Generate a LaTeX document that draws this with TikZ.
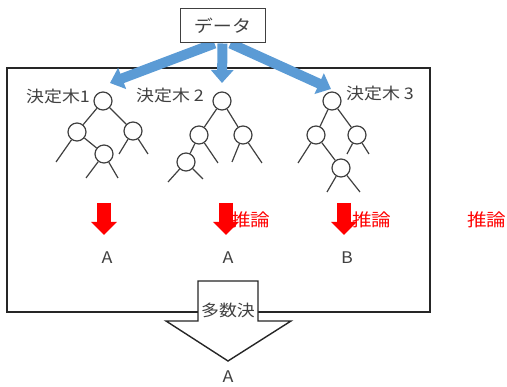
\documentclass[tikz,border=0pt]{standalone}
\usepackage{fontspec}
\setmainfont[FakeStretch=1.12]{Noto Sans CJK JP}
\usetikzlibrary{arrows.meta,backgrounds}
\definecolor{ink}{HTML}{404040}
\definecolor{flowblue}{HTML}{5B9BD5}
\tikzset{
  lbl/.style={text=ink, inner sep=0pt, font=\fontsize{16}{16}\selectfont},
  redlbl/.style={text=red, inner sep=0pt, font=\fontsize{17.5}{17.5}\selectfont},
  tnode/.style={circle, draw=ink, fill=white, line width=1.2pt, minimum size=18pt, inner sep=0pt},
  tedge/.style={draw=ink, line width=1.2pt},
  flow/.style={draw=flowblue, line width=10pt, -{Triangle[width=22pt,length=13pt]}},
  vote/.style={draw=red, line width=14pt, -{Triangle[width=25pt,length=13pt]}},
}
\begin{document}
\begin{tikzpicture}[x=1pt,y=-1pt]
\useasboundingbox (0,0) rectangle (507,387);

% data source
\node[draw=ink, fill=white, line width=1pt, minimum width=85pt, minimum height=34pt, inner sep=0pt,
      text=ink, font=\fontsize{17}{17}\selectfont] (data) at (222.5,26) {データ};

% ensemble frame and the three bootstrap copies, kept behind the data box
\coordinate (t1) at (110,83);
\coordinate (t2) at (222,83);
\coordinate (t3) at (331,89);
\begin{scope}[on background layer]
  \draw[line width=1.6pt, draw=black!85] (7,68) rectangle (430,312);
  \draw[flow] ([xshift=-8pt]data.south) -- (t1);
  \draw[flow] (data.south) -- (t2);
  \draw[flow] ([xshift=8pt]data.south) -- (t3);
\end{scope}

% tree labels
\node[lbl, anchor=west] (lab1) at (26,96) {決定木1};
\node[lbl, anchor=west] (lab2) at (136,95) {決定木 2};
\node[lbl, anchor=west] (lab3) at (346,93) {決定木 3};

% tree 1
\node[tnode] (a0) at (103,101) {};
\node[tnode] (a1) at (77,132) {};
\node[tnode] (a2) at (133,131) {};
\node[tnode] (a3) at (104,154) {};
\draw[tedge] (a0) -- (a1); \draw[tedge] (a0) -- (a2); \draw[tedge] (a1) -- (a3);
\coordinate (a1l) at (56,162);
\coordinate (a2l) at (119,154); \coordinate (a2r) at (148,154);
\coordinate (a3l) at (86,178);  \coordinate (a3r) at (118,178);
\draw[tedge] (a1) -- (a1l);
\draw[tedge] (a2) -- (a2l); \draw[tedge] (a2) -- (a2r);
\draw[tedge] (a3) -- (a3l); \draw[tedge] (a3) -- (a3r);

% tree 2
\node[tnode] (b0) at (222,101) {};
\node[tnode] (b1) at (199,135) {};
\node[tnode] (b2) at (243,135) {};
\node[tnode] (b3) at (186,162) {};
\draw[tedge] (b0) -- (b1); \draw[tedge] (b0) -- (b2); \draw[tedge] (b1) -- (b3);
\coordinate (b1r) at (218,163);
\coordinate (b2l) at (232,162); \coordinate (b2r) at (262,163);
\coordinate (b3l) at (168,182); \coordinate (b3r) at (203,179);
\draw[tedge] (b1) -- (b1r);
\draw[tedge] (b2) -- (b2l); \draw[tedge] (b2) -- (b2r);
\draw[tedge] (b3) -- (b3l); \draw[tedge] (b3) -- (b3r);

% tree 3
\node[tnode] (c0) at (332,101) {};
\node[tnode] (c1) at (316,135) {};
\node[tnode] (c2) at (357,135) {};
\node[tnode] (c3) at (341,168) {};
\draw[tedge] (c0) -- (c1); \draw[tedge] (c0) -- (c2); \draw[tedge] (c1) -- (c3);
\coordinate (c1l) at (298,163);
\coordinate (c2l) at (347,154); \coordinate (c2r) at (369,154);
\coordinate (c3l) at (327,192); \coordinate (c3r) at (360,192);
\draw[tedge] (c1) -- (c1l);
\draw[tedge] (c2) -- (c2l); \draw[tedge] (c2) -- (c2r);
\draw[tedge] (c3) -- (c3l); \draw[tedge] (c3) -- (c3r);

% inference arrows
\coordinate (p1) at (104,203); \coordinate (q1) at (104,235);
\coordinate (p2) at (226,203); \coordinate (q2) at (226,235);
\coordinate (p3) at (344,203); \coordinate (q3) at (344,235);
\draw[vote] (p1) -- (q1);
\draw[vote] (p2) -- (q2);
\draw[vote] (p3) -- (q3);
\node[redlbl, anchor=west] (inf2) at (231,220) {推論};
\node[redlbl, anchor=west] (inf3) at (352,220) {推論};
\node[redlbl, anchor=west] (inf4) at (467,220) {推論};

% individual predictions
\node[lbl] (r1) at (107,258) {A};
\node[lbl] (r2) at (228,258) {A};
\node[lbl] (r3) at (347,258) {B};

% majority vote
\draw[draw=black!85, line width=1.4pt, fill=white, line join=miter]
  (198,281) -- (258,281) -- (258,321) -- (291,321) -- (228,361) -- (166,321) -- (198,321) -- cycle;
\node[lbl] (vote) at (228,310) {多数決};
\node[lbl] (final) at (228,377) {A};
\end{tikzpicture}
\end{document}
